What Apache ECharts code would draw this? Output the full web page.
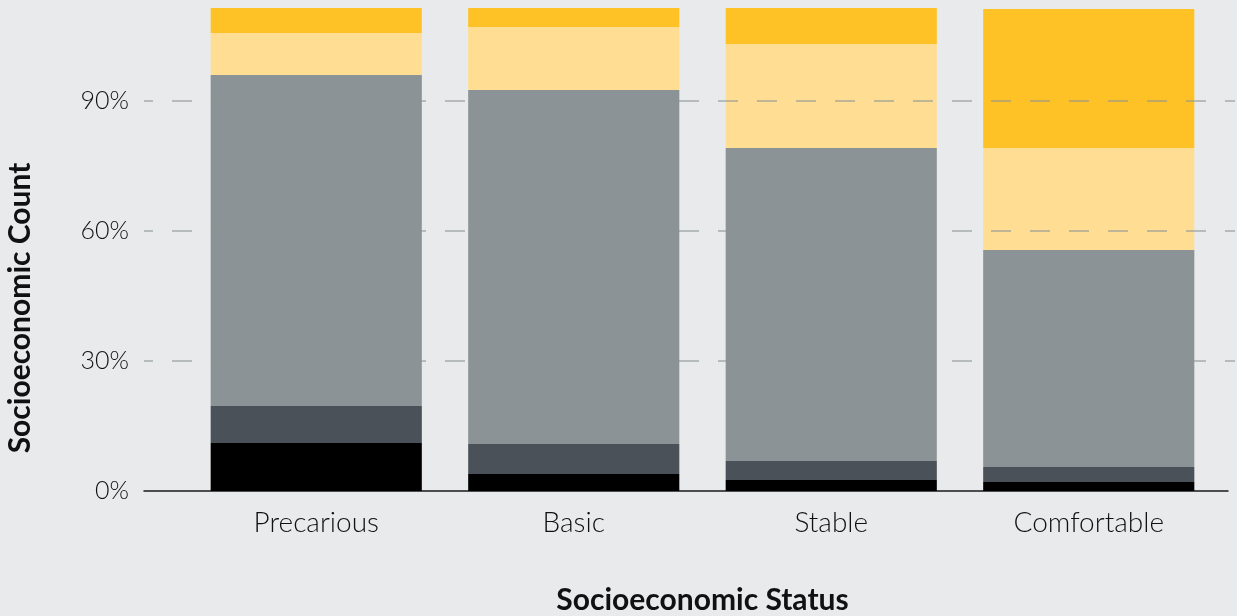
<!DOCTYPE html>
<html>
<head>
<meta charset="utf-8">
<script src="https://cdn.jsdelivr.net/npm/echarts@6/dist/echarts.min.js"></script>
<style>
  html, body { margin: 0; padding: 0; background: #e9eaec; }
  #chart { width: 1237px; height: 616px; }
</style>
</head>
<body>
<div id="chart"></div>
<script>
// Share of each socioeconomic status group, stacked bottom to top (percent)
const categories = ['Precarious', 'Basic', 'Stable', 'Comfortable'];
const tier1 = [11.07, 3.92, 2.54, 2.08];
const tier2 = [8.53, 6.92, 4.38, 3.46];
const tier3 = [76.32, 81.62, 72.17, 50.03];
const tier4 = [9.68, 14.53, 23.98, 23.52];
const tier5 = [5.77, 4.38, 8.30, 32.05];
const yTickStep = 30;

const FONT = 'Lato, "Open Sans", sans-serif';
const Y_MAX = 112;
const TOP = 5.3;
const BOTTOM = 125;

const chart = echarts.init(document.getElementById('chart'), null, { renderer: 'canvas' });

const seriesDefs = [
  { name: 'Tier 1', data: tier1, color: '#000000' },
  { name: 'Tier 2', data: tier2, color: '#4a5158' },
  { name: 'Tier 3', data: tier3, color: '#8c9396' },
  { name: 'Tier 4', data: tier4, color: '#ffdd92' },
  { name: 'Tier 5', data: tier5, color: '#ffc226' }
];

const gridBase = { top: TOP, bottom: BOTTOM, outerBoundsMode: 'none', containLabel: false };

chart.setOption({
  backgroundColor: '#e9eaec',
  animation: false,
  grid: [
    // gridlines and value labels
    Object.assign({ left: 144, right: 2 }, gridBase),
    // bars
    Object.assign({ left: 187.5, right: 19.5 }, gridBase),
    // baseline
    Object.assign({ left: 144, right: 9 }, gridBase)
  ],
  xAxis: [
    { gridIndex: 0, type: 'value', min: 0, max: 1, show: false },
    {
      gridIndex: 1, type: 'category', data: categories,
      axisLine: { show: false }, axisTick: { show: false },
      axisLabel: { color: '#111', fontFamily: FONT, fontSize: 28, fontWeight: 300, margin: 18 },
      name: 'Socioeconomic Status', nameLocation: 'middle', nameGap: 94,
      nameTextStyle: { color: '#111', fontFamily: FONT, fontSize: 30, fontWeight: 'bold' }
    },
    {
      gridIndex: 2, type: 'value', min: 0, max: 1,
      axisLine: { show: true, onZero: false, lineStyle: { color: '#1a1a1a', width: 1.5 } },
      axisTick: { show: false }, axisLabel: { show: false }, splitLine: { show: false }
    }
  ],
  yAxis: [
    {
      gridIndex: 0, type: 'value', min: 0, max: Y_MAX, interval: yTickStep, z: 5,
      axisLine: { show: false }, axisTick: { show: false },
      axisLabel: {
        color: '#111', fontFamily: FONT, fontSize: 25, fontWeight: 300, margin: 15,
        showMaxLabel: false,
        formatter: v => (v % yTickStep === 0 ? v + '%' : '')
      },
      splitLine: {
        show: true,
        showMinLine: false,
        showMaxLine: false,
        lineStyle: { color: 'rgba(140,147,150,0.55)', width: 2, type: [20, 19], dashOffset: 11 }
      }
    },
    { gridIndex: 1, type: 'value', min: 0, max: Y_MAX, show: false },
    { gridIndex: 2, type: 'value', min: 0, max: Y_MAX, show: false }
  ],
  series: seriesDefs.map(s => ({
    name: s.name,
    type: 'bar',
    stack: 'share',
    xAxisIndex: 1,
    yAxisIndex: 1,
    barCategoryGap: '18%',
    data: s.data,
    itemStyle: { color: s.color },
    emphasis: { disabled: true }
  })),
  graphic: [
    {
      type: 'text',
      x: 20, y: 308,
      rotation: Math.PI / 2,
      style: {
        text: 'Socioeconomic Count',
        fill: '#111',
        font: 'bold 30px ' + FONT,
        align: 'center',
        verticalAlign: 'middle'
      }
    }
  ]
});
</script>
</body>
</html>
